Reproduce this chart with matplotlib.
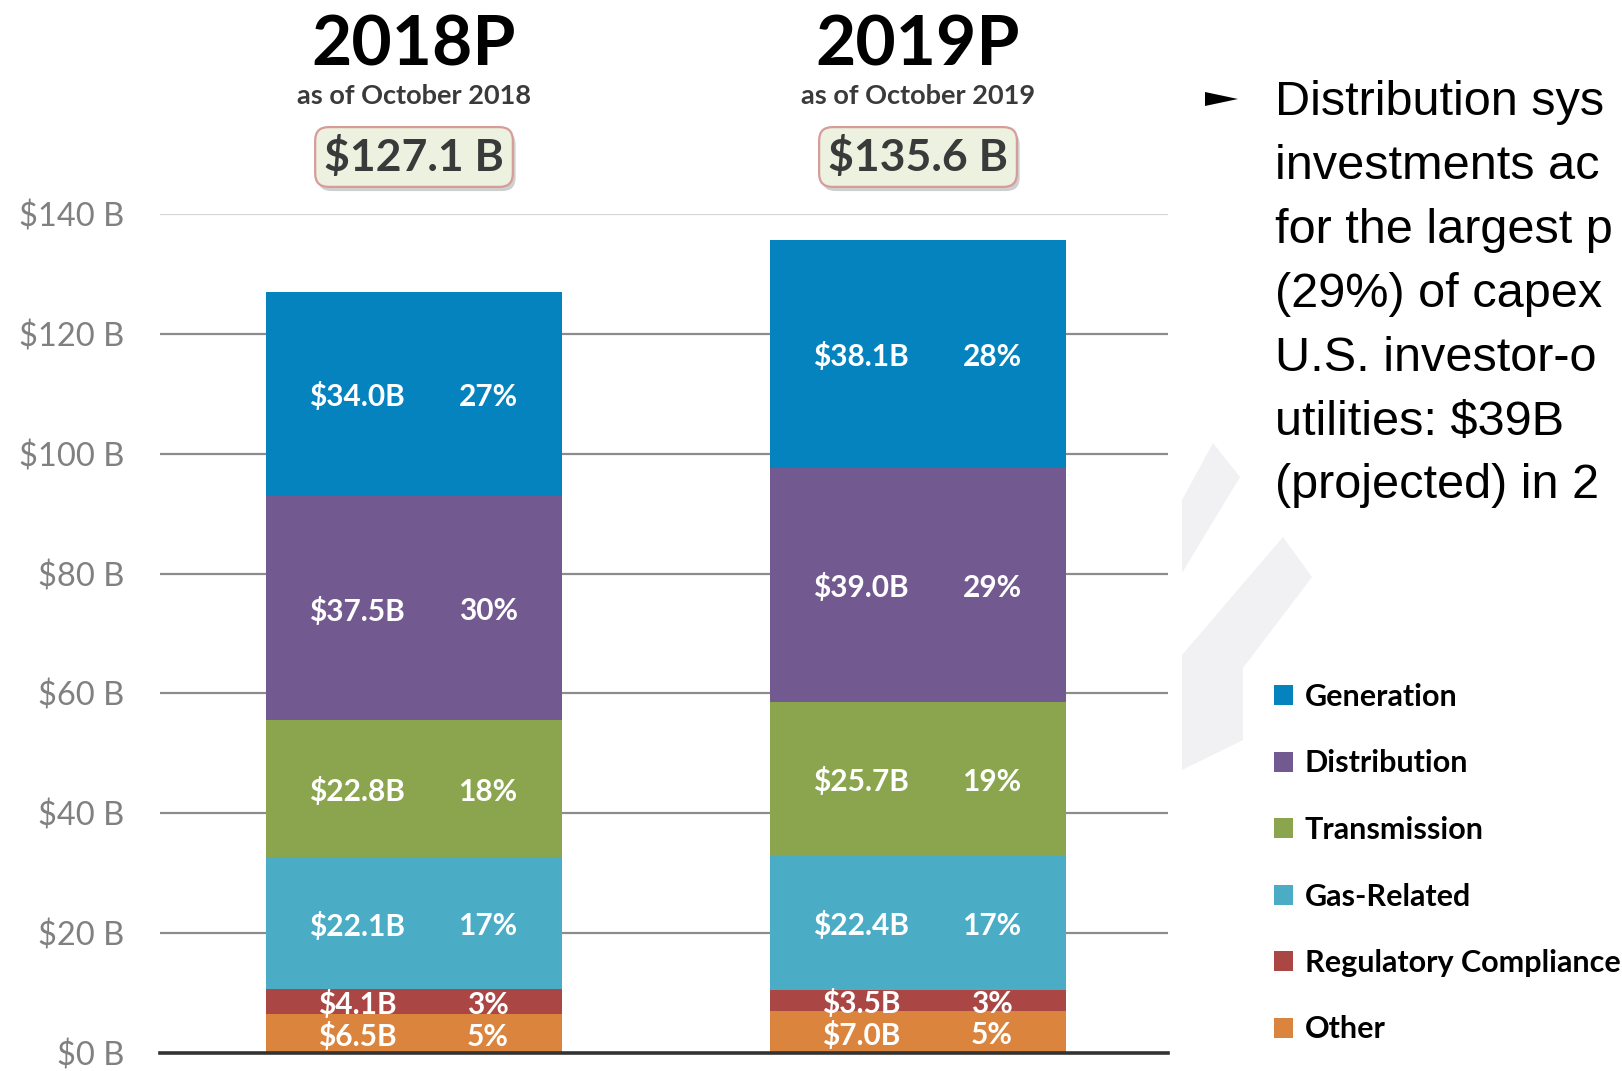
import matplotlib
matplotlib.use("Agg")
import matplotlib.pyplot as plt
import matplotlib.transforms as mtransforms
from matplotlib.patches import Polygon, Patch
import matplotlib.patheffects as pe

# ---------------- data ----------------
years = ["2018P", "2019P"]
as_of = ["as of October 2018", "as of October 2019"]
totals = [127.1, 135.6]
categories = ["Other", "Regulatory Compliance", "Gas-Related",
              "Transmission", "Distribution", "Generation"]
values_2018 = [6.5, 4.1, 22.1, 22.8, 37.5, 34.0]
values_2019 = [7.0, 3.5, 22.4, 25.7, 39.0, 38.1]
pct_2018 = [5, 3, 17, 18, 30, 27]
pct_2019 = [5, 3, 17, 19, 29, 28]
colors = ["#DB843D", "#AA4644", "#4BACC6", "#8BA54E", "#725990", "#0483BF"]
yticks = [0, 20, 40, 60, 80, 100, 120, 140]
bullet_lines = ["Distribution sys", "investments ac",
                "for the largest p", "(29%) of capex",
                "U.S. investor-o", "utilities: $39B",
                "(projected) in 2"]

W, H = 1622, 1071
fig = plt.figure(figsize=(W / 100, H / 100), dpi=100)
fig.patch.set_facecolor("white")

def fx(x):
    return x / W

def fy(y):
    return 1 - y / H

# faint watermark shapes on the right
wm1 = [(1182, 500), (1213, 443), (1240, 477), (1182, 573)]
wm2 = [(1182, 655), (1283, 537), (1312, 577), (1243, 668), (1243, 740), (1182, 770)]
for poly in (wm1, wm2):
    fig.patches.append(Polygon([(fx(a), fy(b)) for a, b in poly], closed=True,
                               transform=fig.transFigure, facecolor="#F1F1F3",
                               edgecolor="none", zorder=0))

ax = fig.add_axes([fx(160), fy(1053), fx(1168) - fx(160), (1053 - 214) / H])
ax.set_facecolor("none")
ax.set_ylim(0, 140)
ax.set_xlim(-0.504, 1.496)

x = [0, 1]
series = list(zip(values_2018, values_2019))
pcts = list(zip(pct_2018, pct_2019))
bottoms = [0.0, 0.0]
width = 0.588
for i, cat in enumerate(categories):
    vals = series[i]
    ax.bar(x, vals, width=width, bottom=bottoms, color=colors[i],
           label=cat, zorder=3, edgecolor="none")
    for j in range(2):
        yc = bottoms[j] + vals[j] / 2 - 0.5
        ax.text(x[j] - 0.113, yc, f"${vals[j]:.1f}B", color="white",
                fontsize=21.5, fontweight="bold", family="Lato",
                ha="center", va="center", zorder=4)
        ax.text(x[j] + 0.147, yc, f"{pcts[i][j]}%", color="white",
                fontsize=21.5, fontweight="bold", family="Lato",
                ha="center", va="center", zorder=4)
    bottoms = [bottoms[k] + vals[k] for k in range(2)]

# grid / axes styling
ax.set_yticks(yticks)
ax.set_yticklabels([f"${t} B" for t in yticks])
for t in yticks[1:]:
    ax.axhline(t, color="#D6D6D6" if t == 140 else "#8C8C8C",
               lw=1.6, zorder=1)
ax.tick_params(axis="y", length=0, pad=26, labelsize=23.5, labelcolor="#808080")
for lab in ax.get_yticklabels():
    lab.set_family("Lato")
ax.tick_params(axis="x", length=0, labelbottom=False)
for s in ["top", "right", "left"]:
    ax.spines[s].set_visible(False)
ax.spines["bottom"].set_color("#333333")
ax.spines["bottom"].set_linewidth(2.6)
ax.spines["bottom"].set_zorder(5)

# headers above bars
trans = mtransforms.blended_transform_factory(ax.transData, fig.transFigure)
for j in range(2):
    ax.text(x[j], fy(65), years[j], transform=trans, ha="center", va="baseline",
            fontsize=50, fontweight="bold", family="Lato", color="black")
    ax.text(x[j], fy(104), as_of[j], transform=trans, ha="center", va="baseline",
            fontsize=19.5, fontweight="bold", family="Lato", color="#3A3A3A")
    t = ax.text(x[j], fy(171), f"${totals[j]:.1f} B", transform=trans,
                ha="center", va="baseline", fontsize=32, fontweight="bold",
                family="Lato", color="#3A3A3A",
                bbox=dict(boxstyle="round,pad=0.2,rounding_size=0.3",
                          facecolor="#EDF1E0", edgecolor="#D79C9A", lw=1.6))
    t.get_bbox_patch().set_path_effects(
        [pe.SimplePatchShadow(offset=(2, -3), alpha=0.35, shadow_rgbFace="#777777"),
         pe.Normal()])

# legend
handles = [Patch(facecolor=colors[i], edgecolor="none", label=categories[i])
           for i in range(len(categories) - 1, -1, -1)]
leg = fig.legend(handles=handles, loc="upper left",
                 bbox_to_anchor=(fx(1274), fy(683)),
                 bbox_transform=fig.transFigure, frameon=False,
                 prop={"family": "Lato", "weight": "bold", "size": 22},
                 handlelength=0.62, handleheight=0.62, handletextpad=0.38,
                 labelspacing=1.26, borderpad=0, borderaxespad=0)
for txt in leg.get_texts():
    txt.set_color("black")

# bullet text
fig.patches.append(Polygon([(fx(1205), fy(92)), (fx(1238), fy(99)), (fx(1205), fy(106))],
                           closed=True, transform=fig.transFigure,
                           facecolor="black", edgecolor="none"))
baselines = [115, 179, 243, 307, 371, 435, 498]
for line, yb in zip(bullet_lines, baselines):
    fig.text(fx(1275), fy(yb), line, ha="left", va="baseline",
             fontsize=35, family="Liberation Sans", color="black")

fig.savefig("out.png", dpi=100)
